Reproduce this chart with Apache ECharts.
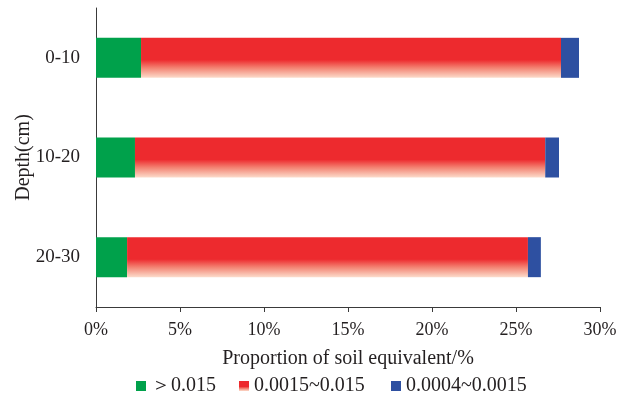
<!DOCTYPE html>
<html><head><meta charset="utf-8">
<script src="https://cdn.jsdelivr.net/npm/echarts@6/dist/echarts.min.js"></script>
<style>html,body{margin:0;padding:0;background:#fff}#c{width:633px;height:403px}</style>
</head><body><div id="c"></div>
<script>
const categories = ['0-10', '10-20', '20-30'];
const seriesNames = ['＞0.015', '0.0015~0.015', '0.0004~0.0015'];
const coarse = [2.68, 2.32, 1.85];
const medium = [25.0, 24.42, 23.86];
const fine = [1.07, 0.82, 0.77];
const xTicks = [0, 5, 10, 15, 20, 25, 30];

const font = '"Liberation Serif", "Times New Roman", serif';
const txt = '#231f20';
const redGrad = new echarts.graphic.LinearGradient(0, 0, 0, 1, [
  {offset: 0, color: '#ED2A2E'},
  {offset: 0.55, color: '#ED2A2E'},
  {offset: 0.75, color: '#F38272'},
  {offset: 1, color: '#FCDCCB'}
]);
const legendLefts = [136, 239, 391];
const chart = echarts.init(document.getElementById('c'), null, {renderer: 'canvas'});
chart.setOption({
  animation: false,
  grid: {left: 96, right: 33, top: 8, bottom: 96, containLabel: false, outerBoundsMode: 'none'},
  legend: seriesNames.map((n, i) => ({
    left: legendLefts[i], top: 376, itemWidth: 10, itemHeight: 10,
    icon: 'rect', padding: 0,
    textStyle: {fontFamily: font, fontSize: 20, color: txt},
    data: [n]
  })),
  xAxis: {
    type: 'value', min: xTicks[0], max: xTicks[xTicks.length - 1], interval: 5,
    axisLine: {show: true, lineStyle: {color: '#3a3a3a', width: 1}},
    axisTick: {show: true, length: 5, lineStyle: {color: '#3a3a3a'}},
    splitLine: {show: false},
    axisLabel: {formatter: '{value}%', fontFamily: font, fontSize: 18, color: txt, margin: 14},
    name: 'Proportion of soil equivalent/%', nameLocation: 'middle', nameGap: 42,
    nameMoveOverlap: false,
    nameTextStyle: {fontFamily: font, fontSize: 20, color: txt}
  },
  yAxis: {
    type: 'category', data: categories, inverse: true,
    axisLine: {show: true, lineStyle: {color: '#3a3a3a', width: 1}},
    axisTick: {show: false},
    axisLabel: {fontFamily: font, fontSize: 19, color: txt, margin: 16},
    name: 'Depth(cm)', nameLocation: 'middle', nameGap: 62, nameRotate: 90,
    nameMoveOverlap: false,
    nameTextStyle: {fontFamily: font, fontSize: 20, color: txt}
  },
  series: [
    {name: seriesNames[0], type: 'bar', stack: 's', barWidth: 40, data: coarse, itemStyle: {color: '#00A14B'}},
    {name: seriesNames[1], type: 'bar', stack: 's', barWidth: 40, data: medium, itemStyle: {color: redGrad}},
    {name: seriesNames[2], type: 'bar', stack: 's', barWidth: 40, data: fine, itemStyle: {color: '#2E50A1'}}
  ]
});
</script></body></html>
